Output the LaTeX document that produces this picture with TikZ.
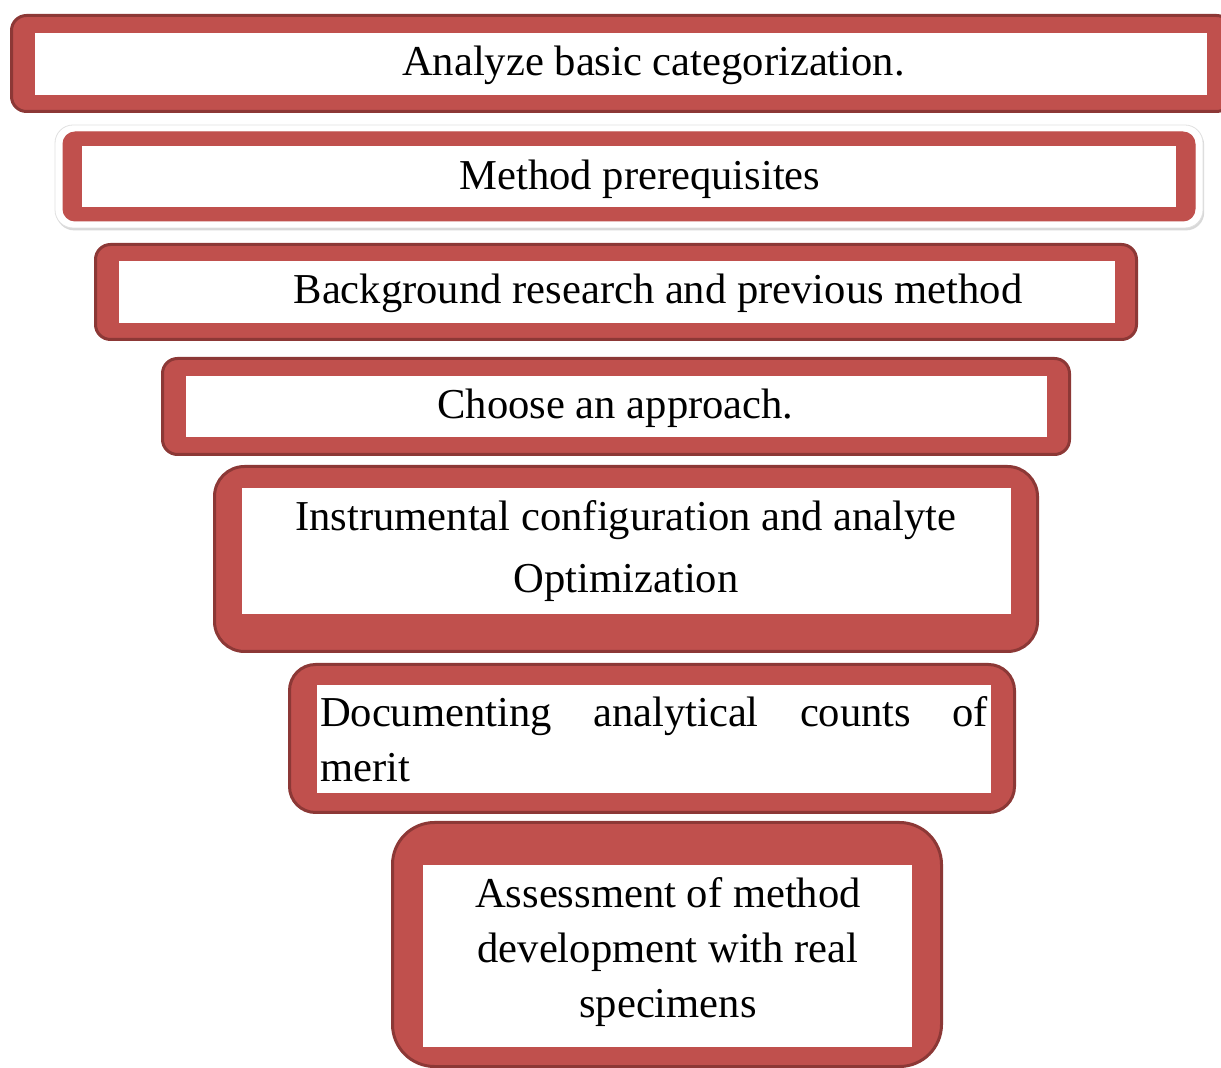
\documentclass[tikz,border=0pt]{standalone}
\usepackage{fontspec}
\setmainfont{Liberation Serif}
\usetikzlibrary{shadows}
\definecolor{StageRed}{HTML}{C0504D}
\definecolor{StageDark}{HTML}{8C3836}
\tikzset{
  stageouter/.style={draw=StageDark, fill=StageRed, line width=1.5pt, inner sep=0pt, rounded corners=7.5pt},
  stageplain/.style={draw=StageRed, fill=StageRed, line width=0.5pt, inner sep=0pt, rounded corners=6pt},
  stagehalo/.style={draw=black!12, fill=white, line width=0.4pt, inner sep=0pt, rounded corners=9pt,
    drop shadow={shadow xshift=0.6pt, shadow yshift=-1.2pt, fill=black!30, opacity=0.5}},
  stageinner/.style={fill=white, inner sep=0pt},
  stagetext/.style={inner sep=0pt, anchor=base, align=center, font=\fontsize{21.3}{27.5}\selectfont},
  stagejustify/.style={inner sep=0pt, anchor=base, text width=334pt, align=justify, font=\fontsize{21.3}{27.5}\selectfont}
}

\begin{document}
\begin{tikzpicture}[x=0.5pt, y=-0.5pt]
  \useasboundingbox (0,0) rectangle (1221,1068);
  % stage boxes, widest on top
  \node[stageouter, minimum width=610pt, minimum height=48pt] (box1) at (621.5,63.5) {};
  \node[stageinner, minimum width=586pt, minimum height=31pt] (in1) at (621,64) {};
  \node[stagehalo, minimum width=574pt, minimum height=51.5pt] (halo2) at (629,176.5) {};
  \node[stageplain, minimum width=566pt, minimum height=44.5pt] (box2) at (629,176.5) {};
  \node[stageinner, minimum width=547pt, minimum height=30.5pt] (in2) at (629,176.5) {};
  \node[stageouter, minimum width=520.5pt, minimum height=47.5pt] (box3) at (616,292) {};
  \node[stageinner, minimum width=498pt, minimum height=31pt] (in3) at (617,292) {};
  \node[stageouter, minimum width=453.5pt, minimum height=48pt] (box4) at (616,406.5) {};
  \node[stageinner, minimum width=430.5pt, minimum height=30.5pt] (in4) at (616.5,406.5) {};
  \node[stageouter, rounded corners=15pt, minimum width=411.5pt, minimum height=92.5pt] (box5) at (626,559) {};
  \node[stageinner, minimum width=384.5pt, minimum height=63pt] (in5) at (626.5,551) {};
  \node[stageouter, rounded corners=13pt, minimum width=362.5pt, minimum height=74pt] (box6) at (652,738.5) {};
  \node[stageinner, minimum width=337pt, minimum height=54pt] (in6) at (654,739) {};
  \node[stageouter, rounded corners=21pt, minimum width=274.5pt, minimum height=122pt] (box7) at (667,944.5) {};
  \node[stageinner, minimum width=244.5pt, minimum height=91pt] (in7) at (667.5,956) {};
  % labels (base = last line for centred text)
  \node[stagetext] (t1) at (653.5,76) {Analyze basic categorization.};
  \node[stagetext] (t2) at (640,190) {Method prerequisites};
  \node[stagetext] (t3) at (658,304) {Background research and previous method};
  \node[stagetext] (t4) at (615.5,419) {Choose an approach.};
  \node[stagetext, font=\fontsize{21.3}{31}\selectfont] (t5) at (626,593) {Instrumental configuration and analyte\\Optimization};
  \node[stagejustify] (t6) at (654,727) {Documenting analytical counts of\linebreak merit};
  \node[stagetext] (t7) at (668,1017) {Assessment of method\\development with real\\specimens};
\end{tikzpicture}
\end{document}
